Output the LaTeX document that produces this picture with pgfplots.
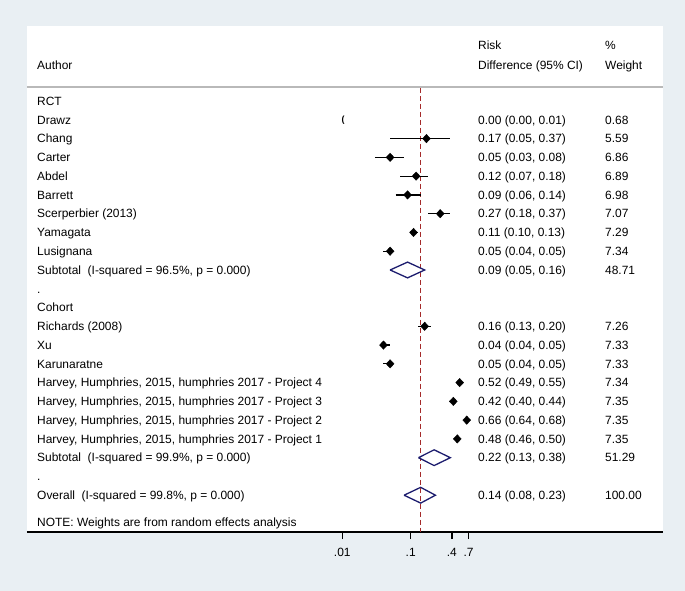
\documentclass[border=0pt]{standalone}
\usepackage{fontspec}
\setmainfont{Liberation Sans}
\usepackage{pgfplots}
\pgfplotsset{compat=1.18}
\usepackage{pgfplotstable}
\definecolor{bg}{RGB}{233,239,243}
\definecolor{hdr}{RGB}{185,185,185}
\definecolor{refred}{RGB}{165,42,42}
\definecolor{navy}{RGB}{28,28,110}
\definecolor{txtc}{RGB}{0,0,0}

\pgfplotstableread{
k est
2 0.17
3 0.05
4 0.12
5 0.09
6 0.27
7 0.11
8 0.05
12 0.16
13 0.04
14 0.05
15 0.52
16 0.42
17 0.66
18 0.48
}\studies

\tikzset{txt/.style={anchor=west, inner sep=0pt, text height=8.6bp, text depth=0pt, text=txtc}}

\begin{document}
\begin{tikzpicture}[x=1bp,y=1bp,font=\fontsize{12}{14}\selectfont]
\fill[bg] (0,0) rectangle (685,591);
\useasboundingbox (0,0) rectangle (685,591);
\begin{axis}[
  at={(27bp,59bp)}, anchor=south west, scale only axis,
  width=636bp, height=506bp,
  xmode=log, xmin=2.455e-7, xmax=488.7,
  ymin=-4.0, ymax=22.96, y dir=reverse,
  axis background/.style={fill=white},
  axis x line=bottom, axis y line=none,
  x axis line style={-, line width=1.4pt, black},
  xtick={0.01,0.1,0.4,0.7}, xticklabels={.01,.1,.4,.7},
  xminorticks=false, tick align=outside, major tick length=7bp,
  xtick style={black, line width=1.3pt},
  xticklabel style={font=\fontsize{12}{14}\selectfont, text=txtc, yshift=-6bp},
  ytick=\empty,
  clip=false,
]
% header separator
\addplot[hdr, line width=1.5pt] coordinates {(2.455e-7,-0.75) (488.7,-0.75)};
% reference dashed line
\addplot[refred, line width=1.3pt, dash pattern=on 5bp off 3bp] coordinates {(0.14,-0.7) (0.14,22.96)};
% confidence intervals
\addplot[black, line width=1.2pt, unbounded coords=jump] coordinates {
(0.05,2) (0.37,2) (nan,nan)
(0.03,3) (0.08,3) (nan,nan)
(0.07,4) (0.18,4) (nan,nan)
(0.06,5) (0.14,5) (nan,nan)
(0.18,6) (0.37,6) (nan,nan)
(0.10,7) (0.13,7) (nan,nan)
(0.04,8) (0.05,8) (nan,nan)
(0.13,12) (0.20,12) (nan,nan)
(0.04,13) (0.05,13) (nan,nan)
(0.04,14) (0.05,14) (nan,nan)
(0.49,15) (0.55,15) (nan,nan)
(0.40,16) (0.44,16) (nan,nan)
(0.64,17) (0.68,17) (nan,nan)
(0.46,18) (0.50,18)
};
% point estimates
\addplot[only marks, mark=diamond*, mark size=4.2bp, mark options={fill=black, draw=black, xscale=1.25}] table[x=est, y=k] {\studies};
% Drawz: off-scale arrow
\addplot[only marks, mark=text, text mark={\bfseries\fontsize{9}{9}\selectfont (}] coordinates {(0.0103,1)};
% pooled diamonds
\addplot[navy, line width=1.3pt, fill=white] coordinates {(0.05,9) (0.09,8.58) (0.16,9) (0.09,9.42) (0.05,9)};
\addplot[navy, line width=1.3pt, fill=white] coordinates {(0.13,19) (0.22,18.58) (0.38,19) (0.22,19.42) (0.13,19)};
\addplot[navy, line width=1.3pt, fill=white] coordinates {(0.08,21) (0.14,20.58) (0.23,21) (0.14,21.42) (0.08,21)};
\addplot[refred, line width=1.3pt, dash pattern=on 5bp off 3bp] coordinates {(0.14,20.62) (0.14,21.38)};

% header text
\node[txt] at (axis cs:0.964,-2.98) {Risk};
\node[txt] at (axis cs:69.3,-2.98) {\%};
\node[txt] at (axis cs:3.44e-7,-1.92) {Author};
\node[txt] at (axis cs:0.964,-1.92) {Difference (95\% CI)};
\node[txt] at (axis cs:69.3,-1.92) {Weight};

% left column
\node[txt] at (axis cs:3.44e-7,0) {RCT};
\node[txt] at (axis cs:3.44e-7,1) {Drawz};
\node[txt] at (axis cs:3.44e-7,2) {Chang};
\node[txt] at (axis cs:3.44e-7,3) {Carter};
\node[txt] at (axis cs:3.44e-7,4) {Abdel};
\node[txt] at (axis cs:3.44e-7,5) {Barrett};
\node[txt] at (axis cs:3.44e-7,6) {Scerperbier (2013)};
\node[txt] at (axis cs:3.44e-7,7) {Yamagata};
\node[txt] at (axis cs:3.44e-7,8) {Lusignana};
\node[txt] at (axis cs:3.44e-7,9) {Subtotal\ \ (I-squared = 96.5\%, p = 0.000)};
\node[txt] at (axis cs:3.44e-7,10) {.};
\node[txt] at (axis cs:3.44e-7,11) {Cohort};
\node[txt] at (axis cs:3.44e-7,12) {Richards (2008)};
\node[txt] at (axis cs:3.44e-7,13) {Xu};
\node[txt] at (axis cs:3.44e-7,14) {Karunaratne};
\node[txt] at (axis cs:3.44e-7,15) {Harvey, Humphries, 2015, humphries 2017 - Project 4};
\node[txt] at (axis cs:3.44e-7,16) {Harvey, Humphries, 2015, humphries 2017 - Project 3};
\node[txt] at (axis cs:3.44e-7,17) {Harvey, Humphries, 2015, humphries 2017 - Project 2};
\node[txt] at (axis cs:3.44e-7,18) {Harvey, Humphries, 2015, humphries 2017 - Project 1};
\node[txt] at (axis cs:3.44e-7,19) {Subtotal\ \ (I-squared = 99.9\%, p = 0.000)};
\node[txt] at (axis cs:3.44e-7,20) {.};
\node[txt] at (axis cs:3.44e-7,21) {Overall\ \ (I-squared = 99.8\%, p = 0.000)};
\node[txt] at (axis cs:3.44e-7,22.43) {NOTE: Weights are from random effects analysis};

% effect column
\node[txt] at (axis cs:0.964,1) {0.00 (0.00, 0.01)};
\node[txt] at (axis cs:0.964,2) {0.17 (0.05, 0.37)};
\node[txt] at (axis cs:0.964,3) {0.05 (0.03, 0.08)};
\node[txt] at (axis cs:0.964,4) {0.12 (0.07, 0.18)};
\node[txt] at (axis cs:0.964,5) {0.09 (0.06, 0.14)};
\node[txt] at (axis cs:0.964,6) {0.27 (0.18, 0.37)};
\node[txt] at (axis cs:0.964,7) {0.11 (0.10, 0.13)};
\node[txt] at (axis cs:0.964,8) {0.05 (0.04, 0.05)};
\node[txt] at (axis cs:0.964,9) {0.09 (0.05, 0.16)};
\node[txt] at (axis cs:0.964,12) {0.16 (0.13, 0.20)};
\node[txt] at (axis cs:0.964,13) {0.04 (0.04, 0.05)};
\node[txt] at (axis cs:0.964,14) {0.05 (0.04, 0.05)};
\node[txt] at (axis cs:0.964,15) {0.52 (0.49, 0.55)};
\node[txt] at (axis cs:0.964,16) {0.42 (0.40, 0.44)};
\node[txt] at (axis cs:0.964,17) {0.66 (0.64, 0.68)};
\node[txt] at (axis cs:0.964,18) {0.48 (0.46, 0.50)};
\node[txt] at (axis cs:0.964,19) {0.22 (0.13, 0.38)};
\node[txt] at (axis cs:0.964,21) {0.14 (0.08, 0.23)};

% weight column
\node[txt] at (axis cs:69.3,1) {0.68};
\node[txt] at (axis cs:69.3,2) {5.59};
\node[txt] at (axis cs:69.3,3) {6.86};
\node[txt] at (axis cs:69.3,4) {6.89};
\node[txt] at (axis cs:69.3,5) {6.98};
\node[txt] at (axis cs:69.3,6) {7.07};
\node[txt] at (axis cs:69.3,7) {7.29};
\node[txt] at (axis cs:69.3,8) {7.34};
\node[txt] at (axis cs:69.3,9) {48.71};
\node[txt] at (axis cs:69.3,12) {7.26};
\node[txt] at (axis cs:69.3,13) {7.33};
\node[txt] at (axis cs:69.3,14) {7.33};
\node[txt] at (axis cs:69.3,15) {7.34};
\node[txt] at (axis cs:69.3,16) {7.35};
\node[txt] at (axis cs:69.3,17) {7.35};
\node[txt] at (axis cs:69.3,18) {7.35};
\node[txt] at (axis cs:69.3,19) {51.29};
\node[txt] at (axis cs:69.3,21) {100.00};
\end{axis}
\end{tikzpicture}
\end{document}
